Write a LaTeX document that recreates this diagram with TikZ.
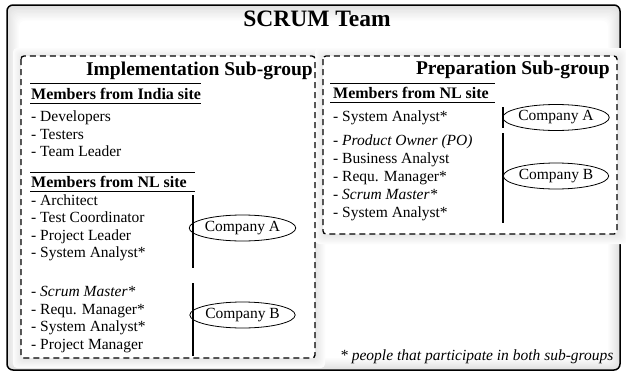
\documentclass[tikz,border=0pt]{standalone}
\usepackage{fontspec}
\setmainfont{Liberation Serif}
\usetikzlibrary{calc, shapes.geometric}

\tikzset{
  subgroup/.style={draw, line width=1.3pt, dash pattern=on 6pt off 4pt, rounded corners=3pt, fill=white},
  sitehead/.style={font=\fontsize{16}{18}\selectfont\bfseries, anchor=base west, inner sep=0pt},
  grouphead/.style={font=\fontsize{19.5}{22}\selectfont\bfseries, anchor=base east, inner sep=0pt},
  member/.style={font=\fontsize{15.5}{18}\selectfont, anchor=base west, inner sep=0pt},
  company/.style={draw, ellipse, line width=0.8pt, minimum width=98pt, minimum height=26pt, inner sep=0pt, font=\fontsize{15.5}{18}\selectfont},
  hrule/.style={line width=1pt},
  bracket/.style={line width=1.2pt}
}

% soft grey halo round a box, #1 = north west, #2 = south east
\newcommand{\boxglow}[2]{%
  \foreach \k in {9,...,1}{
    \pgfmathsetmacro{\g}{2*(10-\k)}
    \fill[gray!\g, rounded corners=4pt]
      ($(#1)+(-\k+1,-\k+1)$) rectangle ($(#2)+(\k+1,\k+1)$);}}

\begin{document}
\begin{tikzpicture}[x=1pt, y=-1pt]
  \useasboundingbox (0,0) rectangle (626,375);

  % corners of the team frame and of the two sub-groups
  \coordinate (T1) at (7,5);    \coordinate (T2) at (620,370);
  \coordinate (I1) at (21,56);  \coordinate (I2) at (315,358);
  \coordinate (P1) at (323,56); \coordinate (P2) at (617,234);

  % team frame, grey rim fading to white
  \foreach \k in {0,...,12}{
    \pgfmathsetmacro{\g}{24-2*\k}
    \fill[gray!\g, rounded corners=6pt]
      ($(T1)+(\k,1.3*\k)$) rectangle ($(T2)+(-\k,-\k)$);}
  \draw[line width=1.5pt, rounded corners=6pt] (T1) rectangle (T2);

  \node[font=\fontsize{23.5}{26}\selectfont\bfseries, anchor=base, inner sep=0pt] (team) at (317,26) {SCRUM Team};

  % sub-groups
  \boxglow{I1}{I2}
  \boxglow{P1}{P2}
  \draw[subgroup] (I1) rectangle (I2);
  \draw[subgroup] (P1) rectangle (P2);

  \node[grouphead] (impl) at (313,75) {Implementation Sub-group};
  \node[grouphead] (prep) at (610,74) {Preparation Sub-group};

  % Implementation: India site
  \node[sitehead] (india) at (31,99) {Members from India site};
  \draw[hrule] ([xshift=-1pt, yshift=4pt]india.north west) -- ([yshift=4pt]india.north east);
  \draw[hrule] ([xshift=-1pt, yshift=-4pt]india.south west) -- ([yshift=-4pt]india.south east);
  \foreach \t [count=\i from 0] in {Developers, Testers, Team Leader}
    \node[member] (india\i) at (31,{121.5+17.7*\i}) {- \t};

  % Implementation: NL site
  \node[sitehead] (nlI) at (31,187.5) {Members from NL site};
  \draw[hrule] ([xshift=-1pt, yshift=4pt]nlI.north west) -- ([xshift=8pt, yshift=4pt]nlI.north east);
  \draw[hrule] ([xshift=-1pt, yshift=-4pt]nlI.south west) -- ([xshift=8pt, yshift=-4pt]nlI.south east);
  \foreach \t [count=\i from 0] in {Architect, Test Coordinator, Project Leader, System Analyst*}
    \node[member] (nlIa\i) at (31,{205+17.5*\i}) {- \t};
  \foreach \t [count=\i from 0] in {{\textit{Scrum Master*}}, Requ. Manager*, System Analyst*, Project Manager}
    \node[member] (nlIb\i) at (31,{296.5+17.5*\i}) {- \t};

  \coordinate (a1) at (193,195); \coordinate (a2) at (193,268);
  \coordinate (b1) at (193,283); \coordinate (b2) at (193,356);
  \draw[bracket] (a1) -- (a2);
  \draw[bracket] (b1) -- (b2);
  \node[company] (compIA) at (242.5,228) {Company A};
  \node[company] (compIB) at (242.5,315) {Company B};

  % Preparation: NL site
  \node[sitehead] (nlP) at (333,98.5) {Members from NL site};
  \draw[hrule] ([xshift=-3pt, yshift=4pt]nlP.north west) -- ([xshift=6pt, yshift=4pt]nlP.north east);
  \draw[hrule] ([xshift=-3pt, yshift=-4pt]nlP.south west) -- ([xshift=6pt, yshift=-4pt]nlP.south east);
  \node[member] (nlPa0) at (333,121.5) {- System Analyst*};
  \foreach \t [count=\i from 0] in {{\textit{Product Owner (PO)}}, Business Analyst, Requ. Manager*, {\textit{Scrum Master*}}, System Analyst*}
    \node[member] (nlPb\i) at (333,{145+18*\i}) {- \t};

  \coordinate (c1) at (503,107); \coordinate (c2) at (503,128);
  \coordinate (d1) at (503,133); \coordinate (d2) at (503,223);
  \draw[bracket] (c1) -- (c2);
  \draw[bracket] (d1) -- (d2);
  \node[company] (compPA) at (556,117.5) {Company A};
  \node[company] (compPB) at (556,176) {Company B};

  \node[member, font=\fontsize{15.5}{18}\selectfont\itshape] (note) at (340,360) {* people that participate in both sub-groups};
\end{tikzpicture}
\end{document}
